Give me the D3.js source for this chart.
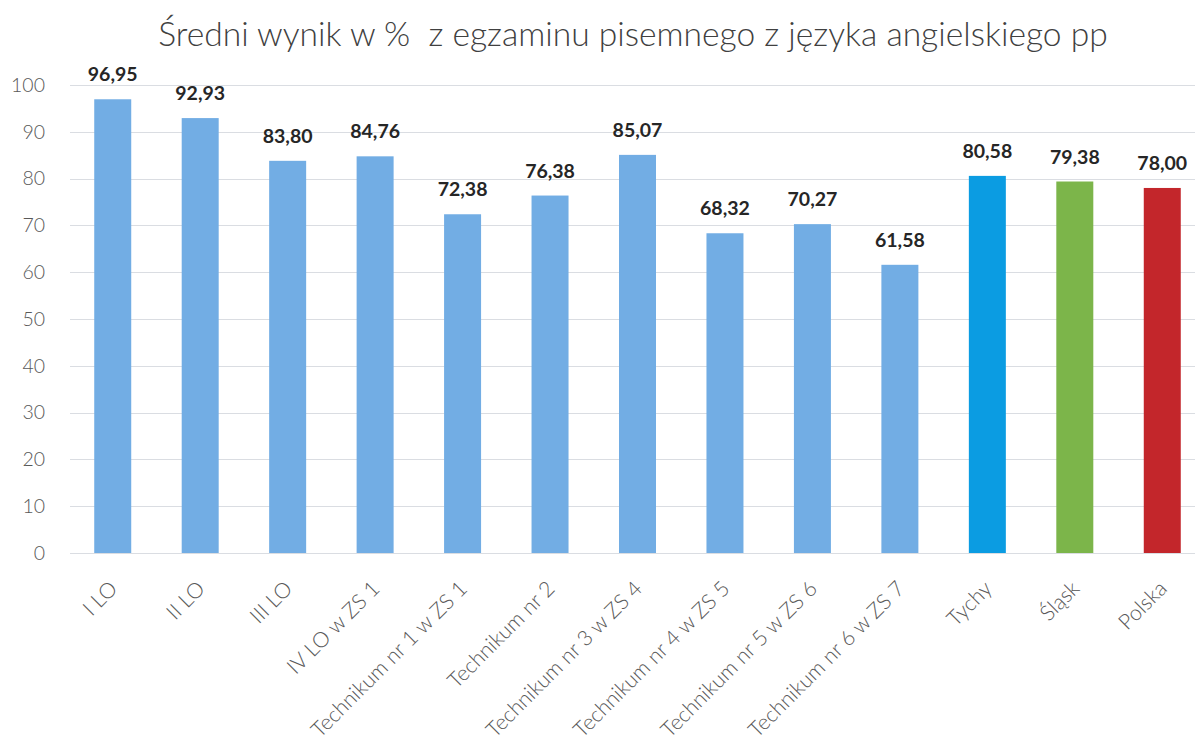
<!DOCTYPE html>
<html>
<head>
<meta charset="utf-8">
<script src="https://cdn.jsdelivr.net/npm/d3@7"></script>
<style>
  html, body { margin: 0; padding: 0; background: #fff; }
  svg { display: block; }
</style>
</head>
<body>
<svg id="chart" width="1195" height="740"></svg>
<script>
// ---- data ----
const categories = [
  "I LO", "II LO", "III LO", "IV LO w ZS 1", "Technikum nr 1 w ZS 1",
  "Technikum nr 2", "Technikum nr 3 w ZS 4", "Technikum nr 4 w ZS 5",
  "Technikum nr 5 w ZS 6", "Technikum nr 6 w ZS 7", "Tychy", "Śląsk", "Polska"
];
const values = [96.95, 92.93, 83.80, 84.76, 72.38, 76.38, 85.07, 68.32, 70.27, 61.58, 80.58, 79.38, 78.00];
const barColors = [
  "#72ade4", "#72ade4", "#72ade4", "#72ade4", "#72ade4", "#72ade4", "#72ade4",
  "#72ade4", "#72ade4", "#72ade4", "#0b9ce2", "#7cb54a", "#c3262b"
];
const yTicks = [0, 10, 20, 30, 40, 50, 60, 70, 80, 90, 100];
const title = "Średni wynik w %  z egzaminu pisemnego z języka angielskiego pp";

// ---- layout ----
const W = 1195, H = 740;
const FONT = "Lato, 'Open Sans', sans-serif";
const svg = d3.select("#chart");

const pi = 0.577;
const x = d3.scaleBand()
  .domain(categories)
  .range([69, 1206])
  .paddingInner(pi)
  .paddingOuter(pi / 2);

const y = d3.scaleLinear().domain([0, 100]).range([553, 85]);

// helper: fit font size so a text reaches a target width
function fitSize(str, weight, targetW, base) {
  const t = svg.append("text").attr("font-family", FONT).attr("font-weight", weight)
    .attr("font-size", base).style("white-space", "pre").text(str);
  const w = t.node().getComputedTextLength();
  t.remove();
  return base * targetW / w;
}

// title
const titleSize = fitSize(title, 300, 950, 30);
svg.append("text")
  .attr("x", 633).attr("y", 46)
  .attr("text-anchor", "middle")
  .attr("font-family", FONT).attr("font-weight", 300).attr("font-size", titleSize)
  .attr("fill", "#404040")
  .style("white-space", "pre")
  .text(title);

// gridlines
svg.append("g").selectAll("line").data(yTicks).join("line")
  .attr("x1", 70).attr("x2", W)
  .attr("y1", d => Math.round(y(d)) + 0.5).attr("y2", d => Math.round(y(d)) + 0.5)
  .attr("stroke", "#dadde2").attr("stroke-width", 1);

// y axis labels
const yAxis = d3.axisLeft(y).tickValues(yTicks).tickSize(0).tickPadding(0).tickFormat(d3.format("d"));
const gy = svg.append("g").attr("transform", "translate(45,0)").call(yAxis);
gy.select(".domain").remove();
gy.selectAll("text")
  .attr("font-family", FONT).attr("font-weight", 300).attr("font-size", 19.5)
  .attr("fill", "#595959");

// bars
svg.append("g").selectAll("rect").data(values).join("rect")
  .attr("x", (d, i) => x(categories[i]))
  .attr("width", x.bandwidth())
  .attr("y", d => y(d))
  .attr("height", d => y(0) - y(d))
  .attr("fill", (d, i) => barColors[i]);

// value labels
const fmt = v => v.toFixed(2).replace(".", ",");
svg.append("g").selectAll("text").data(values).join("text")
  .attr("x", (d, i) => x(categories[i]) + x.bandwidth() / 2)
  .attr("y", d => y(d) - 18)
  .attr("text-anchor", "middle")
  .attr("font-family", FONT).attr("font-weight", 700).attr("font-size", 19.5)
  .attr("fill", "#262626")
  .text(d => fmt(d));

// x labels (rotated)
const xSize = fitSize("Technikum nr 2", 300, 141, 20);
const xAxis = d3.axisBottom(x).tickSize(0).tickPadding(0);
const gx = svg.append("g").call(xAxis);
gx.select(".domain").remove();
gx.selectAll(".tick").attr("transform", d => `translate(${x(d) + x.bandwidth() / 2 + 6},590)`);
gx.selectAll("text")
  .attr("y", 0).attr("dy", 0)
  .attr("transform", "rotate(-45)")
  .attr("text-anchor", "end")
  .attr("font-family", FONT).attr("font-weight", 300).attr("font-size", xSize)
  .attr("fill", "#595959");
</script>
</body>
</html>
